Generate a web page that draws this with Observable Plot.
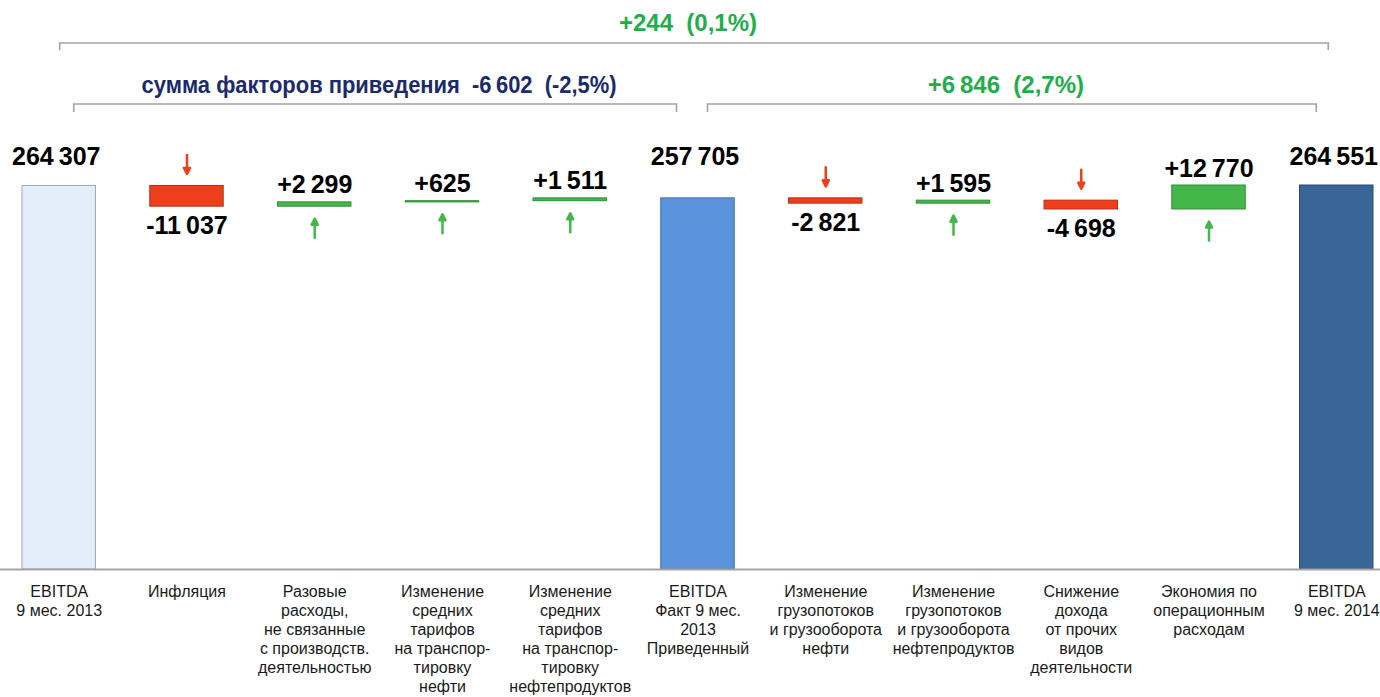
<!DOCTYPE html>
<html><head><meta charset="utf-8">
<script src="https://cdn.jsdelivr.net/npm/d3@7"></script>
<script src="https://cdn.jsdelivr.net/npm/@observablehq/plot@0.6"></script>
<style>
html,body{margin:0;padding:0;background:#fff;overflow:hidden}
#chart svg{display:block}
</style></head><body><div id="chart"></div>
<script>
// ---- data ----
const categories = [
  "EBITDA\n9 мес. 2013",
  "Инфляция",
  "Разовые\nрасходы,\nне связанные\nс производств.\nдеятельностью",
  "Изменение\nсредних\nтарифов\nна транспор-\nтировку\nнефти",
  "Изменение\nсредних\nтарифов\nна транспор-\nтировку\nнефтепродуктов",
  "EBITDA\nФакт 9 мес.\n2013\nПриведенный",
  "Изменение\nгрузопотоков\nи грузооборота\nнефти",
  "Изменение\nгрузопотоков\nи грузооборота\nнефтепродуктов",
  "Снижение\nдохода\nот прочих\nвидов\nдеятельности",
  "Экономия по\nоперационным\nрасходам",
  "EBITDA\n9 мес. 2014"
];
const values = [264307, -11037, 2299, 625, 1511, 257705, -2821, 1595, -4698, 12770, 264551];
const kinds = ["total","delta","delta","delta","delta","total","delta","delta","delta","delta","total"];
const groupLabels = ["+244\u00a0\u00a0(0,1%)", "сумма факторов приведения\u00a0\u00a0-6\u2009602\u00a0\u00a0(-2,5%)", "+6\u2009846\u00a0\u00a0(2,7%)"];
const groupSpans = [[0, 10], [0, 5], [5, 10]];
const axisMin = 60000, axisMax = 280000;

// ---- derived ----
const rows = [];
let level = 0;
categories.forEach((c, i) => {
  const v = values[i];
  if (kinds[i] === "total") { rows.push({cat: c, i, kind: "total", v, y1: axisMin, y2: v}); level = v; }
  else { const a = level, b = level + v; rows.push({cat: c, i, kind: "delta", v, y1: Math.min(a, b), y2: Math.max(a, b)}); level = b; }
});
const loc = d3.formatLocale({decimal: ",", thousands: "\u2009", grouping: [3], currency: ["", ""], minus: "-"});
const fmt = loc.format(",");
const label = d => d.kind === "total" ? fmt(d.v) : (d.v > 0 ? "+" : "") + fmt(d.v);
const totals = rows.filter(d => d.kind === "total");
const pos = rows.filter(d => d.kind === "delta" && d.v > 0);
const neg = rows.filter(d => d.kind === "delta" && d.v < 0);

const RED = "#ef3e1c", GREEN = "#45b64a";
const totalFill = ["#e3eefa", "#5a93db", "#3a6598"];
const totalStroke = ["#9fa8b3", "#3f70b0", "#2a4a73"];
const fillOf = d => d.kind === "total" ? totalFill[totals.indexOf(d)] : d.v < 0 ? RED : GREEN;
const strokeOf = d => d.kind === "total" ? totalStroke[totals.indexOf(d)] : d.v < 0 ? "#b8301a" : "#2f8f36";

const arrowShape = {
  draw(ctx, l) {
    const h = 6, w = 3;
    ctx.moveTo(0, 0);
    ctx.lineTo(0, -l + h);
    ctx.moveTo(-w, -l + h);
    ctx.lineTo(0, -l);
    ctx.lineTo(w, -l + h);
    ctx.closePath();
  }
};

const FONT = "'Liberation Sans', Arial, sans-serif";
const plot = Plot.plot({
  width: 1380, height: 697,
  marginTop: 156, marginBottom: 128, marginLeft: 22, marginRight: 7,
  x: {domain: categories, paddingInner: 0.425, paddingOuter: 0, round: false, axis: null},
  y: {domain: [axisMin, axisMax], axis: null},
  style: {fontFamily: FONT, background: "#fff", overflow: "visible"},
  marks: [
    Plot.barY(rows, {x: "cat", y1: "y1", y2: "y2", fill: fillOf, stroke: strokeOf, strokeWidth: 1}),
    Plot.ruleY([axisMin], {stroke: "#a6a6a6", strokeWidth: 2, insetLeft: -22, insetRight: -7}),
    Plot.text(totals, {x: "cat", text: label, frameAnchor: "top", lineAnchor: "bottom", dy: 8, dx: -3, fontSize: 25, fontWeight: "bold", fill: "#000"}),
    Plot.text(pos, {x: "cat", y: "y2", text: label, lineAnchor: "bottom", dy: -9, fontSize: 25, fontWeight: "bold", fill: "#000"}),
    Plot.text(neg, {x: "cat", y: "y1", text: label, lineAnchor: "top", dy: 10, fontSize: 25, fontWeight: "bold", fill: "#000"}),
    Plot.vector(pos, {x: "cat", y: "y1", length: 19, rotate: 0, anchor: "start", dy: 31, shape: arrowShape, stroke: GREEN, fill: GREEN, strokeWidth: 2.5}),
    Plot.vector(neg, {x: "cat", y: "y2", length: 19, rotate: 180, anchor: "start", dy: -31, shape: arrowShape, stroke: RED, fill: RED, strokeWidth: 2.5}),
    Plot.text(rows, {x: "cat", text: "cat", frameAnchor: "bottom", lineAnchor: "top", dy: 14, fontSize: 16, lineHeight: 1.19, fill: "#1a1a1a"})
  ]
});

// ---- group brackets, positioned with the plot's x scale ----
const sx = plot.scale("x");
const bw = sx.bandwidth;
const cx = i => sx.apply(categories[i]) + bw / 2;
const bracketGeom = [
  {l: 1, r: -8, y: 43, tick: 7, ty: 31, dx: -6, color: "#1fae4a", len: null},
  {l: 15, r: -21, y: 104, tick: 8, ty: 93, dx: 4, color: "#1b2a6b", len: 475},
  {l: 10, r: -20, y: 104, tick: 8, ty: 93, dx: -6, color: "#1fae4a", len: null}
];
const svg = d3.select(plot);
const g = svg.append("g");
groupSpans.forEach(([a, b], k) => {
  const s = bracketGeom[k];
  const x1 = cx(a) + s.l, x2 = cx(b) + s.r;
  g.append("path")
    .attr("d", `M${x1},${s.y + s.tick}V${s.y}H${x2}V${s.y + s.tick}`)
    .attr("fill", "none").attr("stroke", "#a3a3a3").attr("stroke-width", 1.6);
  const t = g.append("text")
    .attr("x", (x1 + x2) / 2 + s.dx).attr("y", s.ty)
    .attr("text-anchor", "middle")
    .attr("font-family", "'Liberation Sans Narrow', 'Arial Narrow', 'Liberation Sans', sans-serif")
    .attr("font-weight", "bold").attr("font-size", 24)
    .attr("fill", s.color)
    .text(groupLabels[k]);
  if (s.len) t.attr("textLength", s.len).attr("lengthAdjust", "spacingAndGlyphs");
});

document.getElementById("chart").appendChild(plot);
</script>
</body></html>
